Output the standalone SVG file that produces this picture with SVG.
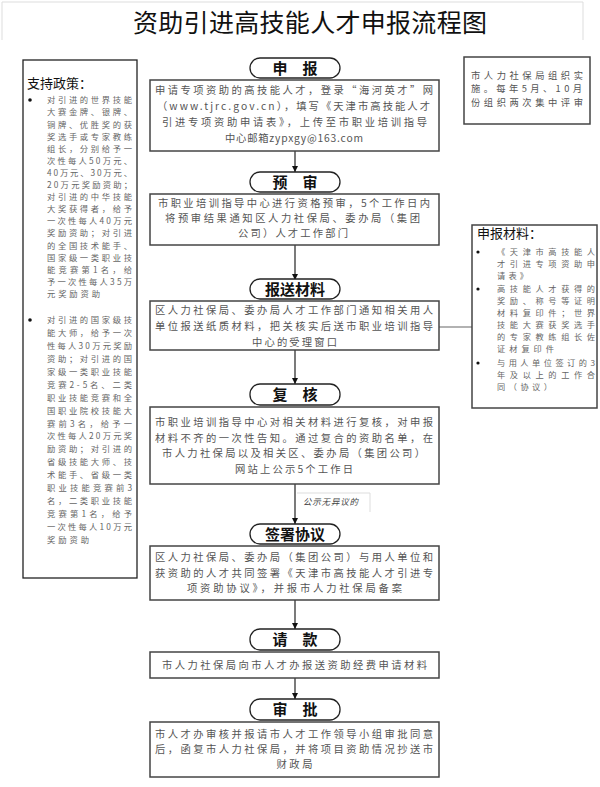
<svg xmlns="http://www.w3.org/2000/svg" width="600" height="787" viewBox="0 0 600 787">
<style>
text{font-family:"Noto Sans CJK SC","Liberation Sans",sans-serif;}
.title{font-size:25px;fill:#111;}
.box{fill:#fff;stroke:#444;stroke-width:1.5;}
.pill{fill:#fff;stroke:#222;stroke-width:1.3;}
.plab{font-size:15px;font-weight:bold;fill:#111;text-anchor:middle;}
.bt{font-size:10.3px;fill:#555;text-anchor:middle;}
.st{font-size:8.3px;fill:#666;}
.mt{font-size:8.2px;fill:#666;}
.hd{font-size:13px;fill:#111;}
.rt{font-size:9.3px;fill:#555;}
.conn{stroke:#333;stroke-width:1.3;fill:none;}
.lbl{font-size:8.5px;fill:#444;font-style:italic;}
</style>
<defs>
<marker id="arr" viewBox="0 0 10 10" refX="10" refY="5" markerWidth="6" markerHeight="6" orient="auto" markerUnits="userSpaceOnUse">
<path d="M0,0 L10,5 L0,10 z" fill="#111"/>
</marker>
</defs>
<rect width="600" height="787" fill="#fff"/>

<g id="title">
<path d="M2,40 V2 H583 V40" fill="none" stroke="#ddd" stroke-width="1"/>
<text class="title" x="310" y="32" text-anchor="middle" textLength="354" lengthAdjust="spacing">资助引进高技能人才申报流程图</text>
</g>

<g id="connectors">
<line class="conn" x1="295" y1="151" x2="295" y2="172" marker-end="url(#arr)"/>
<line class="conn" x1="295" y1="245" x2="295" y2="280" marker-end="url(#arr)"/>
<line class="conn" x1="295" y1="350" x2="295" y2="384" marker-end="url(#arr)"/>
<line class="conn" x1="295" y1="484" x2="295" y2="524" marker-end="url(#arr)"/>
<line class="conn" x1="295" y1="600" x2="295" y2="629" marker-end="url(#arr)"/>
<line class="conn" x1="295" y1="678" x2="295" y2="699" marker-end="url(#arr)"/>
<line x1="439" y1="327" x2="472" y2="327" stroke="#666" stroke-width="1.2"/>
<g id="label-gongshi">
<path d="M297,493 H370 V512" fill="none" stroke="#ddd" stroke-width="1"/>
<text class="lbl" x="303" y="505" textLength="55" lengthAdjust="spacing">公示无异议的</text>
</g>
</g>

<g id="policy">
<rect x="23" y="60" width="114" height="518" fill="#fff" stroke="#222" stroke-width="1.3"/>
<text class="hd" x="27" y="88">支持政策：</text>
<circle cx="30" cy="100" r="1.8" fill="#111"/>
<circle cx="30" cy="320" r="1.8" fill="#111"/>
<text class="st" x="47" y="103.3" textLength="85" lengthAdjust="spacing">对引进的世界技能</text>
<text class="st" x="47" y="115.4" textLength="85" lengthAdjust="spacing">大赛金牌、银牌、</text>
<text class="st" x="47" y="127.5" textLength="85" lengthAdjust="spacing">铜牌、优胜奖的获</text>
<text class="st" x="47" y="139.6" textLength="85" lengthAdjust="spacing">奖选手或专家教练</text>
<text class="st" x="47" y="151.7" textLength="85" lengthAdjust="spacing">组长，分别给予一</text>
<text class="st" x="47" y="163.8" textLength="85" lengthAdjust="spacing">次性每人50万元、</text>
<text class="st" x="47" y="175.9" textLength="85" lengthAdjust="spacing">40万元、30万元、</text>
<text class="st" x="47" y="188" textLength="85" lengthAdjust="spacing">20万元奖励资助；</text>
<text class="st" x="47" y="200.1" textLength="85" lengthAdjust="spacing">对引进的中华技能</text>
<text class="st" x="47" y="212.2" textLength="85" lengthAdjust="spacing">大奖获得者，给予</text>
<text class="st" x="47" y="224.3" textLength="85" lengthAdjust="spacing">一次性每人40万元</text>
<text class="st" x="47" y="236.4" textLength="85" lengthAdjust="spacing">奖励资助；对引进</text>
<text class="st" x="47" y="248.5" textLength="85" lengthAdjust="spacing">的全国技术能手、</text>
<text class="st" x="47" y="260.6" textLength="85" lengthAdjust="spacing">国家级一类职业技</text>
<text class="st" x="47" y="272.7" textLength="85" lengthAdjust="spacing">能竞赛第1名，给</text>
<text class="st" x="47" y="284.8" textLength="85" lengthAdjust="spacing">予一次性每人35万</text>
<text class="st" x="47" y="296.9" textLength="53" lengthAdjust="spacing">元奖励资助</text>
<text class="st" x="47" y="323.3" textLength="85" lengthAdjust="spacing">对引进的国家级技</text>
<text class="st" x="47" y="336.2" textLength="85" lengthAdjust="spacing">能大师，给予一次</text>
<text class="st" x="47" y="349.1" textLength="85" lengthAdjust="spacing">性每人30万元奖励</text>
<text class="st" x="47" y="362" textLength="85" lengthAdjust="spacing">资助；对引进的国</text>
<text class="st" x="47" y="374.9" textLength="85" lengthAdjust="spacing">家级一类职业技能</text>
<text class="st" x="47" y="387.8" textLength="85" lengthAdjust="spacing">竞赛2-5名、二类</text>
<text class="st" x="47" y="400.7" textLength="85" lengthAdjust="spacing">职业技能竞赛和全</text>
<text class="st" x="47" y="413.6" textLength="85" lengthAdjust="spacing">国职业院校技能大</text>
<text class="st" x="47" y="426.5" textLength="85" lengthAdjust="spacing">赛前3名，给予一</text>
<text class="st" x="47" y="439.4" textLength="85" lengthAdjust="spacing">次性每人20万元奖</text>
<text class="st" x="47" y="452.3" textLength="85" lengthAdjust="spacing">励资助；对引进的</text>
<text class="st" x="47" y="465.2" textLength="85" lengthAdjust="spacing">省级技能大师、技</text>
<text class="st" x="47" y="478.1" textLength="85" lengthAdjust="spacing">术能手、省级一类</text>
<text class="st" x="47" y="491" textLength="85" lengthAdjust="spacing">职业技能竞赛前3</text>
<text class="st" x="47" y="503.9" textLength="85" lengthAdjust="spacing">名，二类职业技能</text>
<text class="st" x="47" y="516.8" textLength="85" lengthAdjust="spacing">竞赛第1名，给予</text>
<text class="st" x="47" y="529.7" textLength="85" lengthAdjust="spacing">一次性每人10万元</text>
<text class="st" x="47" y="542.6" textLength="42" lengthAdjust="spacing">奖励资助</text>
</g>

<g id="note-review">
<rect x="464" y="57" width="126" height="67" class="box"/>
<text class="rt" x="471" y="78.5" textLength="112" lengthAdjust="spacing">市人力社保局组织实</text>
<text class="rt" x="471" y="92" textLength="111" lengthAdjust="spacing">施。每年5月、10月</text>
<text class="rt" x="471" y="105.5" textLength="112" lengthAdjust="spacing">份组织两次集中评审</text>
</g>

<g id="materials">
<rect x="472" y="225" width="125" height="183" class="box"/>
<text class="hd" x="477" y="238">申报材料：</text>
<circle cx="478" cy="252" r="1.6" fill="#111"/>
<circle cx="478" cy="289" r="1.6" fill="#111"/>
<circle cx="478" cy="363" r="1.6" fill="#111"/>
<text class="mt" x="497" y="255" textLength="98" lengthAdjust="spacing">《天津市高技能人</text>
<text class="mt" x="497" y="267" textLength="98" lengthAdjust="spacing">才引进专项资助申</text>
<text class="mt" x="497" y="279" textLength="31" lengthAdjust="spacing">请表》</text>
<text class="mt" x="497" y="292" textLength="98" lengthAdjust="spacing">高技能人才获得的</text>
<text class="mt" x="497" y="304" textLength="98" lengthAdjust="spacing">奖励、称号等证明</text>
<text class="mt" x="497" y="316" textLength="98" lengthAdjust="spacing">材料复印件；世界</text>
<text class="mt" x="497" y="328" textLength="98" lengthAdjust="spacing">技能大赛获奖选手</text>
<text class="mt" x="497" y="340" textLength="98" lengthAdjust="spacing">的专家教练组长佐</text>
<text class="mt" x="497" y="352" textLength="57" lengthAdjust="spacing">证材复印件</text>
<text class="mt" x="497" y="366" textLength="98" lengthAdjust="spacing">与用人单位签订的3</text>
<text class="mt" x="497" y="378" textLength="98" lengthAdjust="spacing">年及以上的工作合</text>
<text class="mt" x="497" y="390" textLength="55" lengthAdjust="spacing">同（协议）</text>
</g>

<g id="step1">
<rect x="250" y="58" width="90" height="20" rx="10" class="pill"/>
<text class="plab" x="295" y="73.5">申　报</text>
<rect x="150" y="80" width="289" height="71" class="box"/>
<text class="bt" x="294" y="94" textLength="278" lengthAdjust="spacing">申请专项资助的高技能人才，登录“海河英才”网</text>
<text class="bt" x="293.5" y="110" textLength="273" lengthAdjust="spacing">（www.tjrc.gov.cn），填写《天津市高技能人才</text>
<text class="bt" x="294.5" y="126" textLength="265" lengthAdjust="spacing">引进专项资助申请表》，上传至市职业培训指导</text>
<text class="bt" x="294" y="142" textLength="138" lengthAdjust="spacing">中心邮箱zypxgy@163.com</text>
</g>

<g id="step2">
<rect x="250" y="172" width="90" height="20" rx="10" class="pill"/>
<text class="plab" x="295" y="187.5">预　审</text>
<rect x="150" y="194" width="289" height="51" class="box"/>
<text class="bt" x="294" y="207" textLength="272" lengthAdjust="spacing">市职业培训指导中心进行资格预审，5个工作日内</text>
<text class="bt" x="292.5" y="222" textLength="255" lengthAdjust="spacing">将预审结果通知区人力社保局、委办局（集团</text>
<text class="bt" x="293" y="237" textLength="110" lengthAdjust="spacing">公司）人才工作部门</text>
</g>

<g id="step3">
<rect x="250" y="279" width="90" height="20" rx="10" class="pill"/>
<text class="plab" x="295" y="294.5">报送材料</text>
<rect x="150" y="301" width="289" height="49" class="box"/>
<text class="bt" x="294" y="314" textLength="278" lengthAdjust="spacing">区人力社保局、委办局人才工作部门通知相关用人</text>
<text class="bt" x="294" y="330" textLength="278" lengthAdjust="spacing">单位报送纸质材料，把关核实后送市职业培训指导</text>
<text class="bt" x="294.5" y="345.5" textLength="85" lengthAdjust="spacing">中心的受理窗口</text>
</g>

<g id="step4">
<rect x="250" y="384" width="90" height="21" rx="10" class="pill"/>
<text class="plab" x="295" y="400">复　核</text>
<rect x="150" y="407" width="289" height="77" class="box"/>
<text class="bt" x="294" y="426" textLength="278" lengthAdjust="spacing">市职业培训指导中心对相关材料进行复核，对申报</text>
<text class="bt" x="294" y="441.5" textLength="278" lengthAdjust="spacing">材料不齐的一次性告知。通过复合的资助名单，在</text>
<text class="bt" x="293.5" y="457" textLength="263" lengthAdjust="spacing">市人力社保局以及相关区、委办局（集团公司）</text>
<text class="bt" x="294" y="472.5" textLength="118" lengthAdjust="spacing">网站上公示5个工作日</text>
</g>

<g id="step5">
<rect x="250" y="524" width="90" height="20" rx="10" class="pill"/>
<text class="plab" x="295" y="539.5">签署协议</text>
<rect x="150" y="546" width="289" height="54" class="box"/>
<text class="bt" x="294" y="561" textLength="278" lengthAdjust="spacing">区人力社保局、委办局（集团公司）与用人单位和</text>
<text class="bt" x="294" y="576.5" textLength="278" lengthAdjust="spacing">获资助的人才共同签署《天津市高技能人才引进专</text>
<text class="bt" x="294.5" y="592" textLength="215" lengthAdjust="spacing">项资助协议》，并报市人力社保局备案</text>
</g>

<g id="step6">
<rect x="250" y="629" width="90" height="21" rx="10" class="pill"/>
<text class="plab" x="295" y="645">请　款</text>
<rect x="150" y="652" width="289" height="26" class="box"/>
<text class="bt" x="294.5" y="669" textLength="265" lengthAdjust="spacing">市人力社保局向市人才办报送资助经费申请材料</text>
</g>

<g id="step7">
<rect x="250" y="699" width="90" height="21" rx="10" class="pill"/>
<text class="plab" x="295" y="715">审　批</text>
<rect x="150" y="722" width="289" height="55" class="box"/>
<text class="bt" x="294" y="738" textLength="278" lengthAdjust="spacing">市人才办审核并报请市人才工作领导小组审批同意</text>
<text class="bt" x="294" y="753" textLength="278" lengthAdjust="spacing">后，函复市人力社保局，并将项目资助情况抄送市</text>
<text class="bt" x="294.5" y="768" textLength="36" lengthAdjust="spacing">财政局</text>
</g>
</svg>
